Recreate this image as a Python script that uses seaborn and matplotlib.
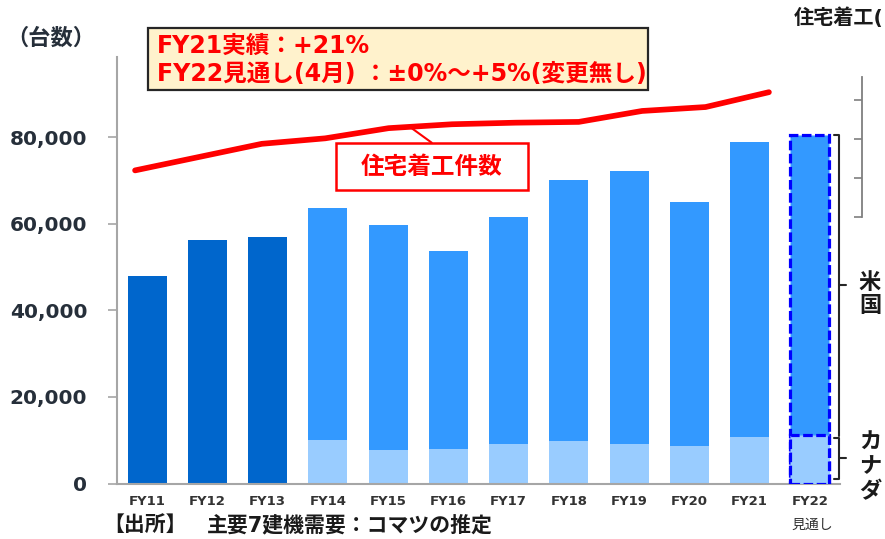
import numpy as np
import pandas as pd
import matplotlib
matplotlib.use("Agg")
import matplotlib.pyplot as plt
import seaborn as sns
from matplotlib.patches import Rectangle

# ---------------- data ----------------
categories = ["FY11", "FY12", "FY13", "FY14", "FY15", "FY16",
              "FY17", "FY18", "FY19", "FY20", "FY21", "FY22"]
total_units = [48000, 56200, 56900, 63700, 59700, 53600,
               61500, 70100, 72200, 65000, 78900, 80500]
canada_units = [np.nan, np.nan, np.nan, 10000, 7700, 8000,
                9100, 9800, 9200, 8700, 10700, 11200]
housing_starts = [1.60, 1.77, 1.94, 2.01, 2.14, 2.19,
                  2.21, 2.22, 2.36, 2.41, 2.60]          # FY11..FY21
y_ticks = [0, 20000, 40000, 60000, 80000]
right_ticks = [1.0, 1.5, 2.0, 2.5]

W, H = 885, 539
sns.set_style("white")
plt.rcParams["font.family"] = ["DejaVu Sans", "Noto Sans CJK JP"]


def px(x, y):
    return (x / W, 1 - y / H)


DARK = "#0066CC"
MID = "#3399FF"
LIGHT = "#99CCFF"
RED = "#FF0000"
GRAY = "#A6A6A6"
TXT = "#262F3A"

fig = plt.figure(figsize=(W / 100, H / 100), dpi=100)
ax = fig.add_axes([117 / W, (H - 483.5) / H, (840 - 117) / W, (483.5 - 57) / H])

df = pd.DataFrame({"cat": categories, "total": total_units, "canada": canada_units})
pal_total = {c: (DARK if i < 3 else MID) for i, c in enumerate(categories)}
pal_can = {c: LIGHT for c in categories}

sns.barplot(data=df, x="cat", y="total", hue="cat", palette=pal_total, order=categories,
            hue_order=categories, legend=False, width=0.65, saturation=1, ax=ax, dodge=False,
            linewidth=0)
sns.barplot(data=df, x="cat", y="canada", hue="cat", palette=pal_can, order=categories,
            hue_order=categories, legend=False, width=0.65, saturation=1, ax=ax, dodge=False,
            linewidth=0)

# FY22 dashed outlines
for p in ax.patches:
    if abs(p.get_x() + p.get_width() / 2 - 11) < 0.01 and p.get_height() > 0:
        p.set_edgecolor("#0000FF")
        p.set_linewidth(2.3)
        p.set_linestyle((0, (3, 1.1)))
        p.set_zorder(3)

ax.set_xlim(-0.5, 11.5)
ax.set_ylim(0, 98500)
ax.set_xlabel("")
ax.set_ylabel("")
ax.set_yticks(y_ticks)
ax.set_yticklabels([f"{v:,.0f}" for v in y_ticks], fontsize=14.5, fontweight="bold", color=TXT)
ax.set_xticks(range(len(categories)))
ax.set_xticklabels(categories, fontsize=9.5, fontweight="bold", color="#333333")
ax.set_xticks(np.arange(-0.5, 12, 1), minor=True)
ax.tick_params(axis="x", which="major", length=0, pad=8)
ax.tick_params(axis="x", which="minor", length=4, width=1.2, color=GRAY, direction="out")
ax.tick_params(axis="y", which="major", length=6.5, width=1.2, color=GRAY, pad=15, direction="out", left=True)
for s in ["top", "right"]:
    ax.spines[s].set_visible(False)
for s in ["left", "bottom"]:
    ax.spines[s].set_color(GRAY)
    ax.spines[s].set_linewidth(1.5)

# ---------------- right axis / line ----------------
ax2 = ax.twinx()
ax2.set_ylim(-2.404, 3.05)
line_x = np.arange(len(housing_starts)) * 1.052 - 0.2
sns.lineplot(x=line_x, y=housing_starts, ax=ax2, color=RED, linewidth=4.1,
             solid_capstyle="round", solid_joinstyle="round")
ax2.set_xlim(-0.5, 11.5)
ax2.set_yticks(right_ticks)
ax2.set_yticklabels([])
ax2.set_ylabel("")
for s in ["top", "left", "bottom"]:
    ax2.spines[s].set_visible(False)
ax2.spines["right"].set_position(("outward", 16))
ax2.spines["right"].set_bounds(1.0, 2.79)
ax2.spines["right"].set_color("#7F7F7F")
ax2.spines["right"].set_linewidth(1.3)
ax2.tick_params(axis="y", which="major", direction="in", length=6, width=1.2, color="#7F7F7F", right=True)

# label box for the line
fig.add_artist(Rectangle(px(336, 190), 192 / W, 47 / H, transform=fig.transFigure,
                         facecolor="white", edgecolor=RED, linewidth=1.8, zorder=5))
fig.text(*px(432, 167), "住宅着工件数", fontsize=17, fontweight="bold", color=RED,
         ha="center", va="center", zorder=6)
ax2.annotate("", xy=(4.38, 2.146), xycoords="data", xytext=(431.7, H - 142.7),
             textcoords="figure pixels",
             arrowprops=dict(arrowstyle="-", color=RED, lw=1.5, shrinkA=0, shrinkB=0))

# ---------------- brackets ----------------
bk = "#262626"
us_top, can_top = total_units[11], canada_units[11]
ax.plot([11.40, 11.49, 11.49], [us_top, us_top, can_top - 200], color=bk, lw=1.5, clip_on=False)
ax.plot([11.49, 11.60], [(us_top + can_top) / 2, (us_top + can_top) / 2], color=bk, lw=1.5, clip_on=False)
ax.plot([11.40, 11.49, 11.49, 11.40], [can_top - 600, can_top - 600, 1000, 1000], color=bk, lw=1.5, clip_on=False)
ax.plot([11.49, 11.60], [(can_top - 600 + 1000) / 2] * 2, color=bk, lw=1.5, clip_on=False)
for ch, yy in zip("米国", [283, 306]):
    fig.text(*px(870, yy), ch, fontsize=16, fontweight="bold", color="#1A1A1A", ha="center", va="center")
for ch, yy in zip("カナダ", [443, 467, 492]):
    fig.text(*px(870, yy), ch, fontsize=16, fontweight="bold", color="#1A1A1A", ha="center", va="center")

# ---------------- headline box ----------------
fig.add_artist(Rectangle(px(148, 90), 500 / W, 62 / H, transform=fig.transFigure,
                         facecolor="#FFF2CC", edgecolor="#262626", linewidth=1.6, zorder=5))
fig.text(*px(157, 46), "FY21実績：+21%", fontsize=17, fontweight="bold", color=RED,
         ha="left", va="center", zorder=6)
fig.text(*px(157, 74), "FY22見通し(4月) ：±0%～+5%(変更無し)", fontsize=17, fontweight="bold",
         color=RED, ha="left", va="center", zorder=6)

# ---------------- other texts ----------------
fig.text(*px(6, 38), "（台数）", fontsize=16, fontweight="bold", color=TXT, ha="left", va="center")
fig.text(*px(794, 18), "住宅着工(", fontsize=14.5, fontweight="bold", color="#1A1A1A",
         ha="left", va="center")
fig.text(*px(812, 525), "見通し", fontsize=10, color="#333333", ha="center", va="center")
fig.text(*px(103, 525), "【出所】", fontsize=15, fontweight="bold", color="#1A1A1A", ha="left", va="center")
fig.text(*px(207, 525), "主要7建機需要：コマツの推定", fontsize=15, fontweight="bold",
         color="#1A1A1A", ha="left", va="center")

fig.savefig("out.png", dpi=100)
